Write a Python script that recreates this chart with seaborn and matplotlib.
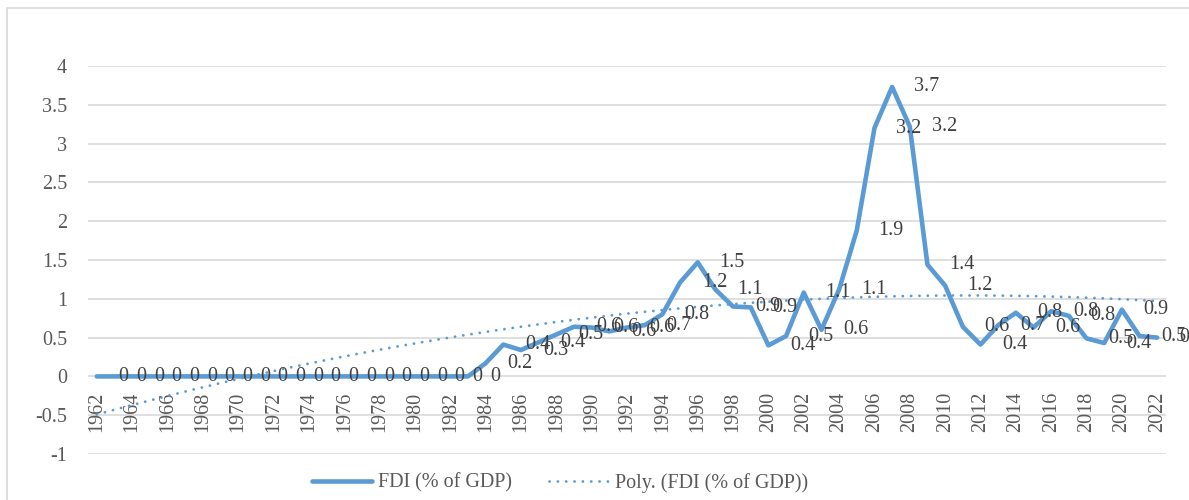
import numpy as np
import pandas as pd
import seaborn as sns
import matplotlib
matplotlib.use("Agg")
import matplotlib.pyplot as plt
from matplotlib.patches import Rectangle

# FDI net inflows (% of GDP), 1962-2022
years = list(range(1962, 2023))
fdi = [0.0] * 22 + [
    0.17, 0.41, 0.34, 0.44, 0.54, 0.64, 0.63, 0.58, 0.63, 0.66,   # 1984-1993
    0.80, 1.21, 1.47, 1.12, 0.90, 0.89, 0.40, 0.52, 1.08, 0.60,   # 1994-2003
    1.12, 1.88, 3.20, 3.73, 3.22, 1.44, 1.17, 0.64, 0.41, 0.66,   # 2004-2013
    0.82, 0.63, 0.84, 0.78, 0.49, 0.43, 0.86, 0.52, 0.50,         # 2014-2022
]
y_ticks = [-1, -0.5, 0, 0.5, 1, 1.5, 2, 2.5, 3, 3.5, 4]
x_ticks = list(range(1962, 2023, 2))

df = pd.DataFrame({"Year": years, "FDI": fdi})

# excel style polynomial trendline, order 2 (x = 1..n)
idx = np.arange(1, len(df) + 1)
df["Trend"] = np.polyval(np.polyfit(idx, df["FDI"], 2), idx)

sns.set_theme(style="white")
plt.rcParams['font.family'] = ['Liberation Serif', 'DejaVu Serif']
plt.rcParams['axes.unicode_minus'] = False

blue = '#5B9BD5'
grey = '#595959'

fig = plt.figure(figsize=(11.89, 5.0), dpi=100)
ax = fig.add_axes([0.074, 0.092, 0.9067, 0.776])

ax.set_ylim(-1, 4)
ax.set_xlim(1961.5, 2022.5)
for v in y_ticks:
    ax.axhline(v, color='#D9D9D9', lw=1.2, zorder=0)

sns.lineplot(data=df, x="Year", y="FDI", ax=ax, color=blue, lw=3.3,
             solid_capstyle='round', solid_joinstyle='round',
             label="FDI (% of GDP)", legend=False, zorder=3)
sns.lineplot(data=df, x="Year", y="Trend", ax=ax, color=blue, lw=2.0,
             linestyle=(0, (0.05, 2.95)), dash_capstyle='round',
             label="Poly. (FDI (% of GDP))", legend=False, zorder=4)

# data labels (sit one category to the right of their point, as in the source)
for yr, v in zip(years, fdi):
    ax.annotate(f"{round(v, 1):g}", xy=(yr + 1, v), xytext=(3, 0),
                textcoords='offset points', ha='left', va='center',
                fontsize=14.5, color='#404040', zorder=5,
                annotation_clip=False)

for s in ax.spines.values():
    s.set_visible(False)
ax.spines['bottom'].set_position(('data', 0))
ax.set_yticks(y_ticks)
ax.set_yticklabels([f"{v:g}" for v in y_ticks])
ax.set_xticks(x_ticks)
ax.set_xticklabels([str(x) for x in x_ticks], rotation=90, va='top', ha='center')
ax.tick_params(axis='y', length=0, pad=15, labelsize=14.5, labelcolor=grey)
ax.tick_params(axis='x', length=0, pad=11, labelsize=14.5, labelcolor=grey)
ax.set_xlabel("")
ax.set_ylabel("")

handles, labels = ax.get_legend_handles_labels()
fig.legend(handles, labels, loc='center', bbox_to_anchor=(0.471, 0.034), ncol=2,
           frameon=False, fontsize=14.5, labelcolor=grey, handlelength=3,
           handletextpad=0.3, columnspacing=1.8)

# chart border
fig.patches.append(Rectangle((0.006, -0.1), 1.1, 1.084, transform=fig.transFigure,
                             fill=False, edgecolor='#D9D9D9', lw=1.2))

fig.savefig("out.png", dpi=100)
